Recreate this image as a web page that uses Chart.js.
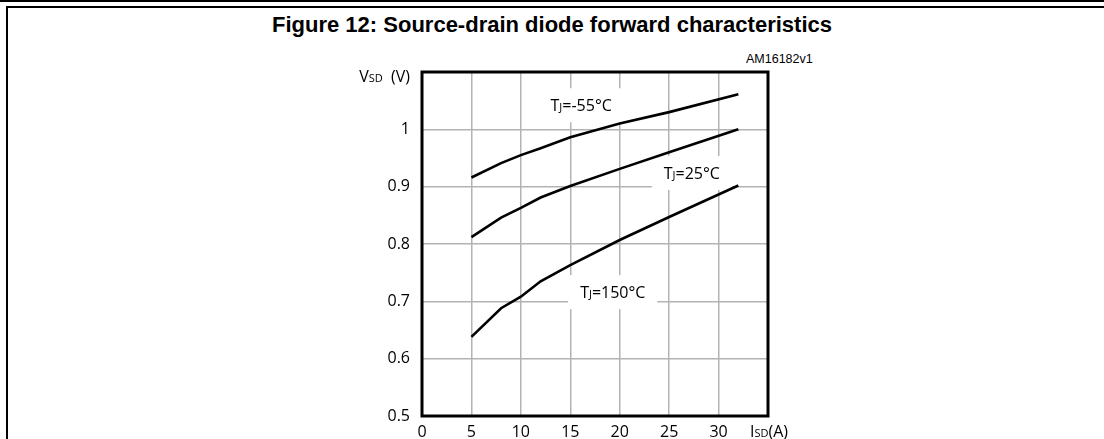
<!DOCTYPE html>
<html>
<head>
<meta charset="utf-8">
<script src="https://cdn.jsdelivr.net/npm/chart.js@4/dist/chart.umd.min.js"></script>
<style>
  html, body { margin: 0; padding: 0; background: #fff; }
  #wrap { position: relative; width: 1104px; height: 439px; overflow: hidden; }
  .rule { position: absolute; background: #000; }
  #title {
    position: absolute; left: 0; top: 12px; width: 1104px; text-align: center;
    font: bold 22px "Liberation Sans", Arial, sans-serif; color: #000;
  }
  #code {
    position: absolute; left: 746px; top: 52px;
    font: 12.5px "Liberation Sans", Arial, sans-serif; color: #000;
  }
  canvas { position: absolute; left: 0; top: 0; }
</style>
</head>
<body>
<div id="wrap">
  <div class="rule" style="left:0;top:0;width:1104px;height:2px"></div>
  <div class="rule" style="left:6px;top:6px;width:1098px;height:2px"></div>
  <div class="rule" style="left:6px;top:6px;width:2px;height:433px"></div>
  <div id="title">Figure 12: Source-drain diode forward characteristics</div>
  <div id="code">AM16182v1</div>
  <canvas id="chart" width="1104" height="439"></canvas>
</div>
<script>
// source-drain current, A
const current = [5, 8, 10, 12, 15, 20, 25, 32];
// forward voltage VSD (V) per junction temperature
const vsdMinus55 = [0.916, 0.941, 0.955, 0.967, 0.986, 1.01, 1.03, 1.061];
const vsd25 = [0.812, 0.846, 0.863, 0.881, 0.901, 0.931, 0.96, 1.0];
const vsd150 = [0.638, 0.688, 0.708, 0.735, 0.763, 0.807, 0.847, 0.902];
const temps = ['-55°C', '25°C', '150°C'];

const xTicks = [0, 5, 10, 15, 20, 25, 30];
const yTicks = [0.5, 0.6, 0.7, 0.8, 0.9, 1];

// where the temperature tags sit, in data units
const tagSpots = [
  { x: 16.1, y: 1.042 },
  { x: 27.3, y: 0.924 },
  { x: 19.3, y: 0.716 }
];

const tickFont = '"Open Sans", "DejaVu Sans", sans-serif';

function toPoints(ys) {
  return current.map((x, i) => ({ x: x, y: ys[i] }));
}

function lineSet(label, ys) {
  return {
    label: label,
    data: toPoints(ys),
    borderColor: '#000',
    borderWidth: 2.6,
    pointRadius: 0,
    tension: 0,
    fill: false
  };
}

// text like "TJ" / "VSD" with the small letters after the first one
function drawSubText(ctx, big, small, rest, x, y, bigSize, smallSize, align) {
  ctx.font = bigSize + 'px ' + tickFont;
  const w1 = ctx.measureText(big).width;
  const w3 = ctx.measureText(rest).width;
  ctx.font = smallSize + 'px ' + tickFont;
  const w2 = ctx.measureText(small).width;
  const total = w1 + w2 + w3;
  let left = x;
  if (align === 'center') left = x - total / 2;
  if (align === 'right') left = x - total;
  ctx.textAlign = 'left';
  ctx.textBaseline = 'alphabetic';
  ctx.fillStyle = '#000';
  ctx.font = bigSize + 'px ' + tickFont;
  ctx.fillText(big, left, y);
  ctx.font = smallSize + 'px ' + tickFont;
  ctx.fillText(small, left + w1, y);
  ctx.font = bigSize + 'px ' + tickFont;
  ctx.fillText(rest, left + w1 + w2, y);
  return total;
}

const extras = {
  id: 'extras',
  beforeDatasetsDraw(chart) {
    const ctx = chart.ctx;
    const xs = chart.scales.x, ys = chart.scales.y;
    ctx.save();
    tagSpots.forEach((p, i) => {
      const cx = xs.getPixelForValue(p.x);
      const cy = ys.getPixelForValue(p.y);
      ctx.font = '16px ' + tickFont;
      let w = ctx.measureText('T=' + temps[i]).width;
      ctx.font = '11px ' + tickFont;
      w += ctx.measureText('J').width;
      ctx.fillStyle = '#fff';
      ctx.fillRect(cx - w / 2 - 12, cy - 17, w + 24, 34);
      drawSubText(ctx, 'T', 'J', '=' + temps[i], cx, cy + 6, 16, 11, 'center');
    });
    ctx.restore();
  },
  afterDraw(chart) {
    const ctx = chart.ctx;
    const a = chart.chartArea;
    ctx.save();
    ctx.strokeStyle = '#000';
    ctx.lineWidth = 3;
    ctx.strokeRect(a.left, a.top, a.right - a.left, a.bottom - a.top);
    // axis names
    drawSubText(ctx, 'V', 'SD', '  (V)', a.left - 12, a.top + 10, 16, 11, 'right');
    drawSubText(ctx, 'I', 'SD', '(A)', a.right - 18, a.bottom + 21, 16, 11, 'left');
    ctx.restore();
  }
};

new Chart(document.getElementById('chart'), {
  type: 'line',
  data: {
    datasets: [
      lineSet('Tj=-55°C', vsdMinus55),
      lineSet('Tj=25°C', vsd25),
      lineSet('Tj=150°C', vsd150)
    ]
  },
  plugins: [extras],
  options: {
    responsive: false,
    animation: false,
    events: [],
    layout: { padding: { left: 352, right: 336, top: 72, bottom: 0 } },
    plugins: {
      legend: { display: false },
      tooltip: { enabled: false },
      title: { display: false }
    },
    scales: {
      x: {
        type: 'linear',
        min: 0,
        max: 35,
        afterFit(s) { s.height = 23; },
        afterBuildTicks(s) { s.ticks = xTicks.concat([35]).map(v => ({ value: v })); },
        grid: { color: '#b3b3b3', lineWidth: 1.5, drawTicks: false },
        border: { display: false },
        ticks: {
          padding: 7,
          color: '#000',
          font: { family: tickFont, size: 16 },
          maxRotation: 0,
          callback: v => xTicks.includes(v) ? String(v) : ''
        }
      },
      y: {
        type: 'linear',
        min: 0.5,
        max: 1.1,
        afterFit(s) { s.width = 70; },
        afterBuildTicks(s) { s.ticks = yTicks.concat([1.1]).map(v => ({ value: v })); },
        grid: { color: '#b3b3b3', lineWidth: 1.5, drawTicks: false },
        border: { display: false },
        ticks: {
          padding: 12,
          color: '#000',
          font: { family: tickFont, size: 16 },
          callback: v => yTicks.includes(v) ? String(v) : ''
        }
      }
    }
  }
});
</script>
</body>
</html>
